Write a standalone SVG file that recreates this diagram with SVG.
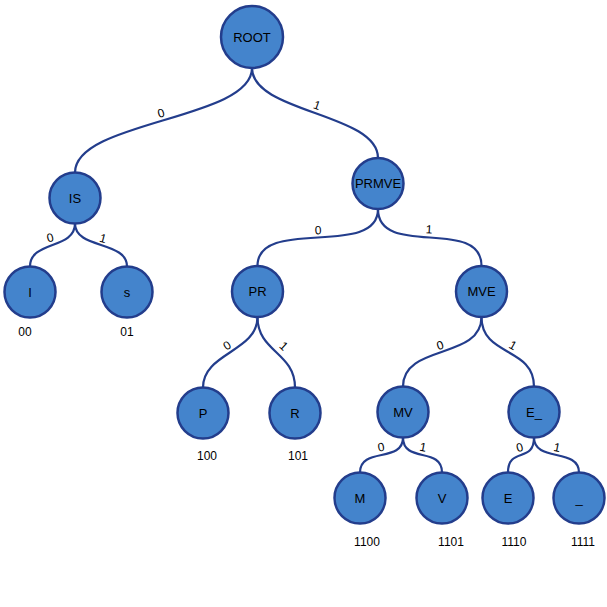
<svg xmlns="http://www.w3.org/2000/svg" width="607" height="607" viewBox="0 0 607 607">
<style>
.edge{fill:none;stroke:#233d8c;stroke-width:2.2}
.node circle{fill:#4484cc;stroke:#233d8c;stroke-width:2.5}
.node text{font-family:"Liberation Sans",Arial,sans-serif;font-size:13px;fill:#000;text-anchor:middle}
.el{font-family:"Liberation Sans",Arial,sans-serif;font-size:12px;fill:#000;text-anchor:middle}
.code{font-family:"Liberation Sans",Arial,sans-serif;font-size:12px;fill:#000;text-anchor:middle}
</style>
<rect width="607" height="607" fill="#fff"/>
<g id="connectors">
<path class="edge" d="M252,68 C252,120 75,120.5 75,172.5"/>
<path class="edge" d="M252,68 C252,113 378,113 378,158"/>
<path class="edge" d="M75,223.5 C75,249.5 30,240.5 30,266.5"/>
<path class="edge" d="M75,223.5 C75,249.5 127,240.5 127,266.5"/>
<path class="edge" d="M378,209 C378,259 257.5,216 257.5,266"/>
<path class="edge" d="M378,209 C378,259 481.5,216 481.5,266"/>
<path class="edge" d="M257.5,317 C257.5,352 203,352.5 203,387.5"/>
<path class="edge" d="M257.5,317 C257.5,352 295,352.5 295,387.5"/>
<path class="edge" d="M481.5,317 C481.5,360 403,343.5 403,386.5"/>
<path class="edge" d="M481.5,317 C481.5,357 534,346.5 534,386.5"/>
<path class="edge" d="M403,437.5 C403,463.5 360,446.5 360,472.5"/>
<path class="edge" d="M403,437.5 C403,463.5 442,446.5 442,472.5"/>
<path class="edge" d="M534,437.5 C534,463.5 508,446.5 508,472.5"/>
<path class="edge" d="M534,437.5 C534,462.5 579,447.5 579,472.5"/>
<text class="el" x="161" y="117.3" transform="rotate(-16.5 161 113)">0</text>
<text class="el" x="317" y="109.3" transform="rotate(19.7 317 105)">1</text>
<text class="el" x="50" y="241.8" transform="rotate(-15 50 237.5)">0</text>
<text class="el" x="103" y="242.5" transform="rotate(15 103 238.2)">1</text>
<text class="el" x="318" y="234.3" transform="rotate(-3 318 230)">0</text>
<text class="el" x="429" y="233.5" transform="rotate(3.5 429 229.2)">1</text>
<text class="el" x="227" y="349.5" transform="rotate(-33 227 345.2)">0</text>
<text class="el" x="284" y="350.3" transform="rotate(43 284 346)">1</text>
<text class="el" x="440" y="349.3" transform="rotate(-18.6 440 345)">0</text>
<text class="el" x="513" y="349.5" transform="rotate(29.4 513 345.2)">1</text>
<text class="el" x="381" y="451.3" transform="rotate(-10 381 447)">0</text>
<text class="el" x="423" y="451.3" transform="rotate(11 423 447)">1</text>
<text class="el" x="519.5" y="451.5" transform="rotate(-15 519.5 447.2)">0</text>
<text class="el" x="557" y="451.5" transform="rotate(11 557 447.2)">1</text>
</g>
<g id="node-ROOT" class="node"><circle cx="252" cy="37" r="31"/><text x="252" y="41.7">ROOT</text></g>
<g id="node-IS" class="node"><circle cx="75" cy="198" r="25.5"/><text x="75" y="202.7">IS</text></g>
<g id="node-PRMVE" class="node"><circle cx="378" cy="183.5" r="25.5"/><text x="378" y="188.2">PRMVE</text></g>
<g id="node-I" class="node"><circle cx="30" cy="292" r="25.5"/><text x="30" y="296.7">I</text></g>
<g id="node-s" class="node"><circle cx="127" cy="292" r="25.5"/><text x="127" y="296.7">s</text></g>
<g id="node-PR" class="node"><circle cx="257.5" cy="291.5" r="25.5"/><text x="257.5" y="296.2">PR</text></g>
<g id="node-MVE" class="node"><circle cx="481.5" cy="291.5" r="25.5"/><text x="481.5" y="296.2">MVE</text></g>
<g id="node-P" class="node"><circle cx="203" cy="413" r="25.5"/><text x="203" y="417.7">P</text></g>
<g id="node-R" class="node"><circle cx="295" cy="413" r="25.5"/><text x="295" y="417.7">R</text></g>
<g id="node-MV" class="node"><circle cx="403" cy="412" r="25.5"/><text x="403" y="416.7">MV</text></g>
<g id="node-E_" class="node"><circle cx="534" cy="412" r="25.5"/><text x="534" y="416.7">E_</text></g>
<g id="node-M" class="node"><circle cx="360" cy="498" r="25.5"/><text x="360" y="502.7">M</text></g>
<g id="node-V" class="node"><circle cx="442" cy="498" r="25.5"/><text x="442" y="502.7">V</text></g>
<g id="node-E" class="node"><circle cx="508" cy="498" r="25.5"/><text x="508" y="502.7">E</text></g>
<g id="node-_" class="node"><circle cx="579" cy="498" r="25.5"/><text x="579" y="502.7">_</text></g>
<g id="codes">
<text class="code" x="25" y="336">00</text>
<text class="code" x="127" y="336">01</text>
<text class="code" x="207" y="460.3">100</text>
<text class="code" x="298" y="460.3">101</text>
<text class="code" x="367" y="546.3">1100</text>
<text class="code" x="451" y="546.3">1101</text>
<text class="code" x="514" y="546.3">1110</text>
<text class="code" x="583" y="546.3">1111</text>
</g>
</svg>
